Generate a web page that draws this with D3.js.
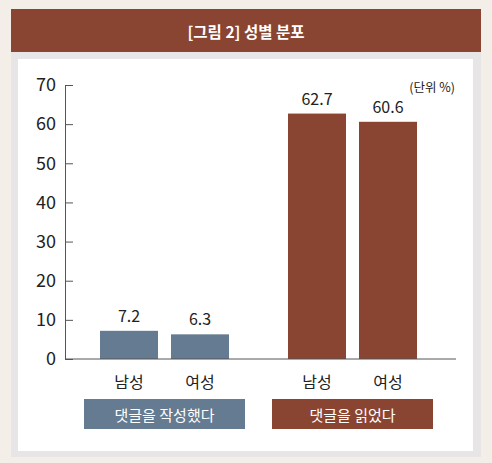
<!DOCTYPE html>
<html><head><meta charset="utf-8">
<script src="https://cdn.jsdelivr.net/npm/d3@7"></script>
<style>
html,body{margin:0;padding:0;background:#f4eee9;}
svg{display:block;font-family:"Noto Sans CJK KR","Noto Sans",sans-serif;}
</style></head>
<body>
<svg id="c" width="492" height="463"></svg>
<script>
const title = "[그림 2] 성별 분포";
const unitLabel = "(단위 %)";
const groups = ["댓글을 작성했다", "댓글을 읽었다"];
const genders = ["남성", "여성"];
const wroteValues = [7.2, 6.3];
const readValues = [62.7, 60.6];
const yTicks = [0, 10, 20, 30, 40, 50, 60, 70];
const groupColors = ["#647b92", "#8a4532"];

const seriesValues = [wroteValues, readValues];
const data = [];
groups.forEach((g, gi) => genders.forEach((s, si) => data.push({group: g, gender: s, value: seriesValues[gi][si], gi})));

const svg = d3.select("#c");
svg.append("rect").attr("x",0).attr("y",0).attr("width",492).attr("height",463).attr("fill","#f4eee9");
svg.append("rect").attr("x",11).attr("y",52).attr("width",470).attr("height",405).attr("fill","#e7e5e5");
svg.append("rect").attr("x",18).attr("y",59).attr("width",455).attr("height",392).attr("fill","#ffffff");
svg.append("rect").attr("x",11).attr("y",9).attr("width",470).attr("height",43).attr("fill","#8a4532");
svg.append("text").attr("x",246).attr("y",31).attr("text-anchor","middle").attr("dominant-baseline","central")
  .attr("fill","#fff").attr("font-size",15.5).attr("font-weight","bold").text(title);

const y = d3.scaleLinear().domain([0,70]).range([359,85]);
const x0 = d3.scaleBand().domain(groups).range([84,433]).paddingInner(27/188);
const x1 = d3.scaleBand().domain(genders).range([0,x0.bandwidth()]).paddingInner(13/71).paddingOuter(16/71);

// bars
svg.append("g").selectAll("rect").data(data).join("rect")
  .attr("x", d => x0(d.group) + x1(d.gender))
  .attr("y", d => y(d.value))
  .attr("width", x1.bandwidth())
  .attr("height", d => y(0) - y(d.value))
  .attr("fill", d => groupColors[d.gi]);

// value labels
svg.append("g").selectAll("text").data(data).join("text")
  .attr("x", d => x0(d.group) + x1(d.gender) + x1.bandwidth()/2)
  .attr("y", d => y(d.value) - 9)
  .attr("text-anchor","middle").attr("font-size",16).attr("fill","#222")
  .text(d => d.value.toFixed(1));

// y axis
const yAxis = d3.axisLeft(y).tickValues(yTicks).tickSizeInner(-8).tickSizeOuter(0).tickPadding(9);
const ga = svg.append("g").attr("transform","translate(65,0)").call(yAxis);
ga.select(".domain").attr("stroke","#555");
ga.selectAll(".tick line").attr("stroke","#555");
ga.selectAll(".tick text").attr("font-size",18).attr("fill","#222").attr("font-family","'Noto Sans CJK KR','Noto Sans',sans-serif");

// baseline
svg.append("line").attr("x1",65).attr("x2",456).attr("y1",y(0)).attr("y2",y(0)).attr("stroke","#555");

// gender labels
svg.append("g").selectAll("text").data(data).join("text")
  .attr("x", d => x0(d.group) + x1(d.gender) + x1.bandwidth()/2)
  .attr("y", 381).attr("dominant-baseline","central")
  .attr("text-anchor","middle").attr("font-size",16).attr("fill","#222")
  .text(d => d.gender);

// group boxes
const gb = svg.append("g").selectAll("g").data(groups).join("g");
gb.append("rect").attr("x", d => x0(d)).attr("y",399).attr("width",x0.bandwidth()).attr("height",30)
  .attr("fill", (d,i) => groupColors[i]);
gb.append("text").attr("x", d => x0(d) + x0.bandwidth()/2).attr("y",414).attr("dominant-baseline","central")
  .attr("text-anchor","middle").attr("fill","#fff").attr("font-size",15).text(d => d);

svg.append("text").attr("x",455).attr("y",86).attr("text-anchor","end").attr("dominant-baseline","central")
  .attr("font-size",12.5).attr("fill","#222").text(unitLabel);
</script>
</body></html>
